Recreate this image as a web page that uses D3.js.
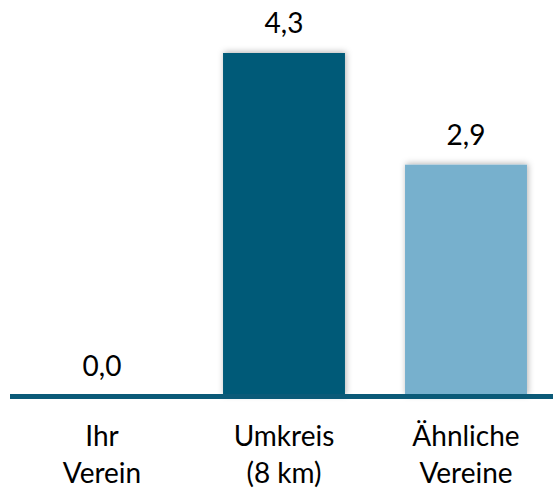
<!DOCTYPE html>
<html>
<head>
<meta charset="utf-8">
<script src="https://cdn.jsdelivr.net/npm/d3@7"></script>
<style>
  body { margin: 0; background: #fff; }
  svg text { font-family: Lato, "Noto Sans", sans-serif; fill: #000; }
</style>
</head>
<body>
<svg id="chart"></svg>
<script>
const width = 553;
const height = 489;

// values
const categories = ["Ihr Verein", "Umkreis (8 km)", "Ähnliche Vereine"];
const labelLines = [["Ihr", "Verein"], ["Umkreis", "(8 km)"], ["Ähnliche", "Vereine"]];
const values = [0.0, 4.3, 2.9];
const colors = ["#005a78", "#005a78", "#77b0cd"];

const svg = d3.select("#chart").attr("width", width).attr("height", height);

// soft shadow like the office chart
const defs = svg.append("defs");
const shadow = defs.append("filter").attr("id", "shadow")
  .attr("x", "-20%").attr("y", "-20%").attr("width", "140%").attr("height", "140%");
shadow.append("feDropShadow")
  .attr("dx", 1).attr("dy", -1).attr("stdDeviation", 3)
  .attr("flood-color", "#000").attr("flood-opacity", 0.3);

const x = d3.scaleBand()
  .domain(categories)
  .range([11, 557])
  .paddingInner(0.33)
  .paddingOuter(0.165);

const y = d3.scaleLinear()
  .domain([0, 4.3])
  .range([396, 53]);

svg.selectAll(".bar")
  .data(values)
  .join("rect")
  .attr("class", "bar")
  .attr("x", (d, i) => x(categories[i]))
  .attr("y", d => y(d))
  .attr("width", x.bandwidth())
  .attr("height", d => y(0) - y(d))
  .attr("fill", (d, i) => colors[i])
  .attr("filter", "url(#shadow)");

// baseline
svg.append("line")
  .attr("x1", 10).attr("x2", width)
  .attr("y1", y(0) + 0.5).attr("y2", y(0) + 0.5)
  .attr("stroke", "#0b5a78")
  .attr("stroke-width", 5);

// value labels, German decimal comma
const fmt = d3.format(".1f");
svg.selectAll(".val")
  .data(values)
  .join("text")
  .attr("class", "val")
  .attr("x", (d, i) => x(categories[i]) + x.bandwidth() / 2)
  .attr("y", d => y(d) - 20)
  .attr("text-anchor", "middle")
  .attr("font-size", 28)
  .text(d => fmt(d).replace(".", ","));

// category labels on two lines
const cat = svg.selectAll(".cat")
  .data(labelLines)
  .join("text")
  .attr("class", "cat")
  .attr("text-anchor", "middle")
  .attr("font-size", 28);

cat.selectAll("tspan")
  .data((d, i) => d.map(t => ({ t, i })))
  .join("tspan")
  .attr("x", d => x(categories[d.i]) + x.bandwidth() / 2)
  .attr("y", (d, j) => 446 + j * 37)
  .text(d => d.t);
</script>
</body>
</html>
